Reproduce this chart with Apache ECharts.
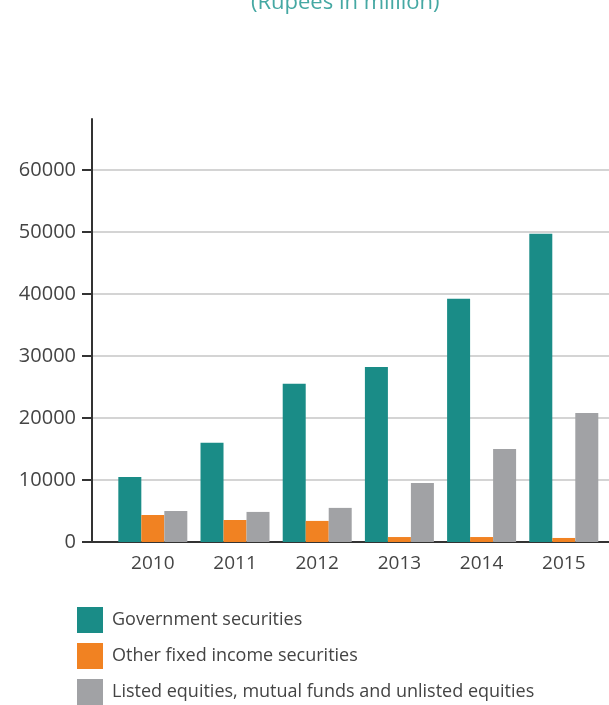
<!DOCTYPE html>
<html>
<head>
<meta charset="utf-8">
<script src="https://cdn.jsdelivr.net/npm/echarts@6/dist/echarts.min.js"></script>
<style>
  html, body { margin: 0; padding: 0; background: #ffffff; }
  #chart { width: 609px; height: 705px; }
</style>
</head>
<body>
<div id="chart"></div>
<script>
// Investment portfolio by year (Rupees in million)
const years = ['2010', '2011', '2012', '2013', '2014', '2015'];
const govSecurities = [10500, 16000, 25500, 28200, 39200, 49700];
const otherFixedIncome = [4350, 3550, 3400, 800, 800, 650];
const listedEquities = [5000, 4850, 5500, 9500, 15000, 20800];
const yTicks = [0, 10000, 20000, 30000, 40000, 50000, 60000];

const seriesNames = [
  'Government securities',
  'Other fixed income securities',
  'Listed equities, mutual funds and unlisted equities'
];
const colors = ['#1a8c87', '#f18222', '#a1a2a5'];
const FONT = '"Open Sans", "Noto Sans", sans-serif';

const yearValues = years.map(Number);
const pair = (arr) => arr.map((v, i) => [yearValues[i], v]);

const chart = echarts.init(document.getElementById('chart'), null, { renderer: 'canvas' });

chart.setOption({
  animation: false,
  backgroundColor: '#ffffff',
  title: {
    text: '(Rupees in million)',
    left: 251,
    top: -8,
    padding: 0,
    textStyle: { color: '#45a8a3', fontFamily: FONT, fontSize: 22, fontWeight: 'normal' }
  },
  legend: {
    orient: 'vertical',
    left: 77,
    top: 607,
    padding: 0,
    itemWidth: 26,
    itemHeight: 26,
    itemGap: 10,
    icon: 'rect',
    textStyle: { color: '#444444', fontFamily: FONT, fontSize: 18, padding: [0, 0, 0, 4] },
    data: seriesNames
  },
  grid: { left: 92, right: 0, top: 119, bottom: 163, containLabel: false },
  xAxis: {
    type: 'value',
    min: 2009.26,
    max: 2015.55,
    axisLine: { show: true, lineStyle: { color: '#333333', width: 2 } },
    axisTick: { show: false },
    splitLine: { show: false },
    axisLabel: {
      customValues: yearValues,
      formatter: (v) => String(Math.round(v)),
      color: '#444444',
      fontFamily: FONT,
      fontSize: 19,
      margin: 12
    }
  },
  yAxis: {
    type: 'value',
    min: 0,
    max: 68200,
    interval: 10000,
    axisLine: { show: true, lineStyle: { color: '#333333', width: 2 } },
    axisTick: { show: true, customValues: yTicks, length: 10, lineStyle: { color: '#333333', width: 2 } },
    splitLine: { show: true, lineStyle: { color: '#c6c6c6', width: 1.5 } },
    axisLabel: {
      customValues: yTicks,
      formatter: (v) => String(v),
      color: '#444444',
      fontFamily: FONT,
      fontSize: 20,
      margin: 16
    }
  },
  series: [
    { name: seriesNames[0], type: 'bar', data: pair(govSecurities), barWidth: 23, barGap: '0%', itemStyle: { color: colors[0] } },
    { name: seriesNames[1], type: 'bar', data: pair(otherFixedIncome), barWidth: 23, barGap: '0%', itemStyle: { color: colors[1] } },
    { name: seriesNames[2], type: 'bar', data: pair(listedEquities), barWidth: 23, barGap: '0%', itemStyle: { color: colors[2] } }
  ]
});
</script>
</body>
</html>
